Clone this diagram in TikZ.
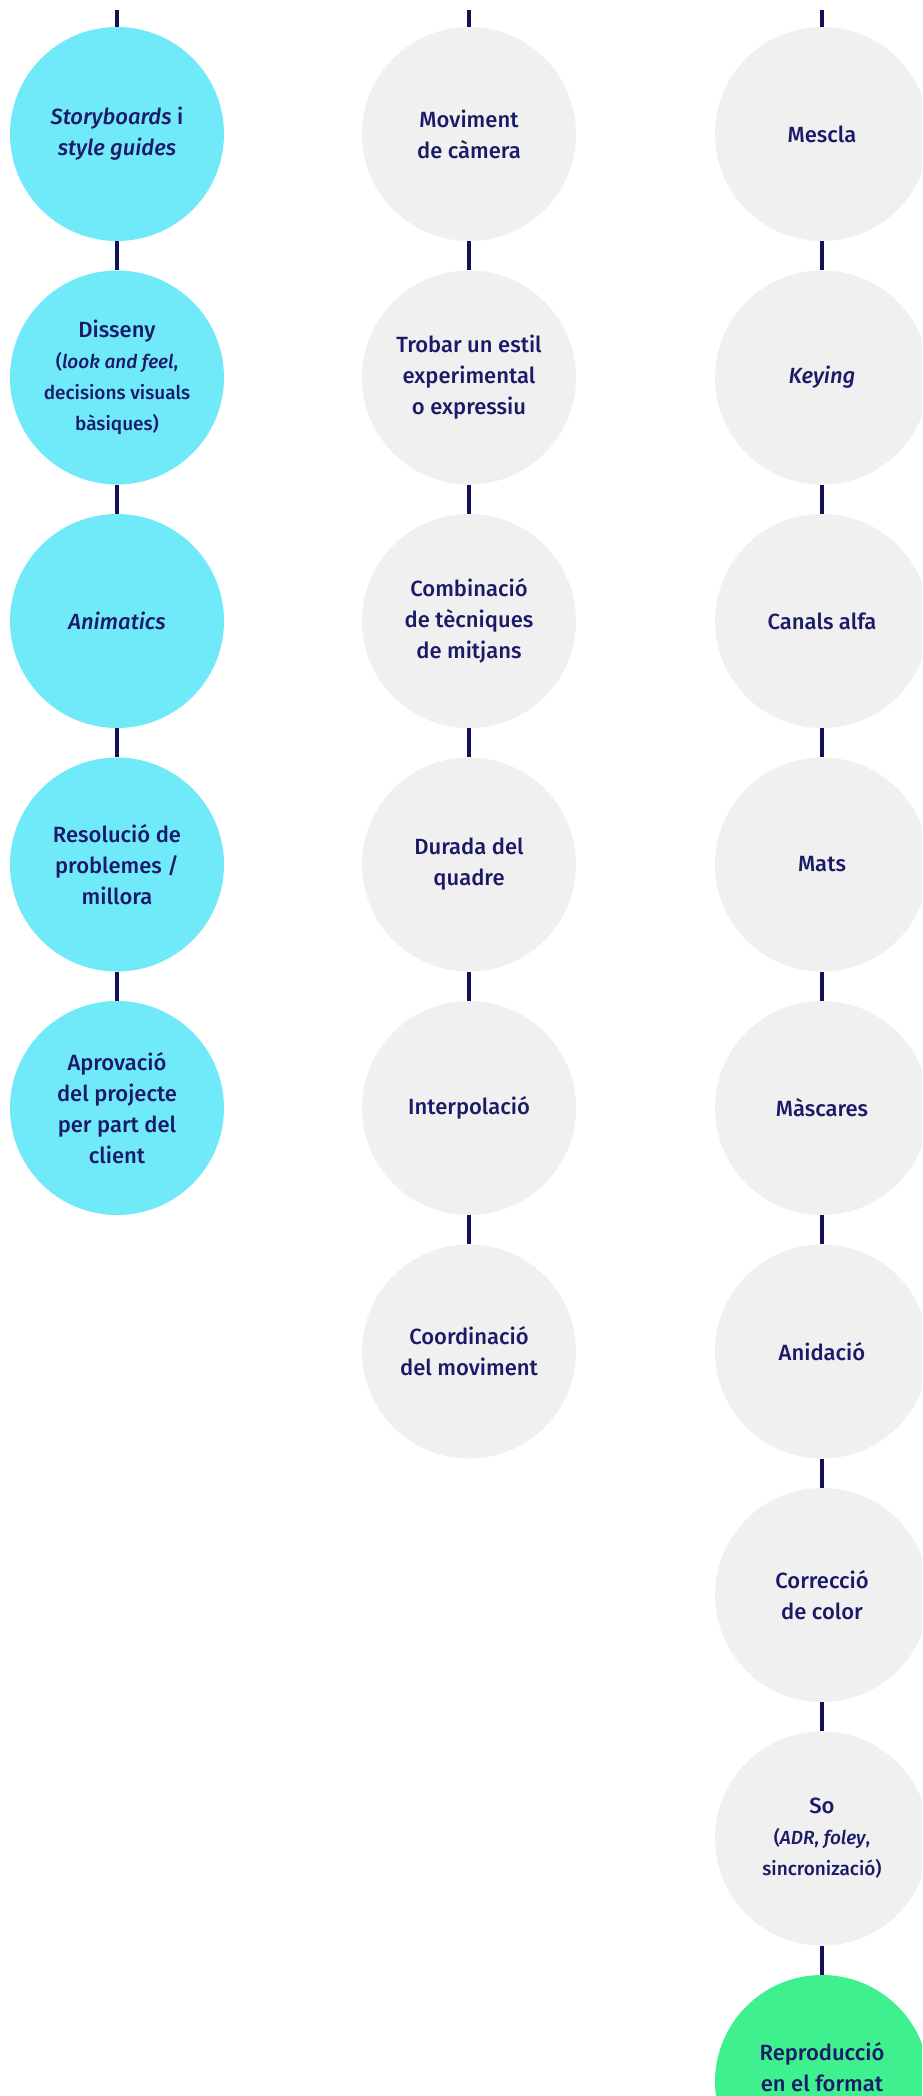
\documentclass[tikz,border=0pt]{standalone}
\usepackage{fontspec}
\setmainfont{Fira Sans Medium}[ItalicFont={Fira Sans Medium Italic}]
\definecolor{navy}{RGB}{26,26,104}
\definecolor{linenavy}{RGB}{18,18,90}
\definecolor{cyanfill}{RGB}{112,233,249}
\definecolor{greyfill}{RGB}{240,240,240}
\definecolor{greenfill}{RGB}{62,240,142}
\newcommand{\smalltxt}{\fontsize{19}{28}\selectfont}
\begin{document}
\begin{tikzpicture}[x=1pt,y=-1pt,
  bubble/.style={circle,inner sep=0pt,minimum size=214pt,text=navy,align=center,
    font=\fontsize{22}{31}\selectfont},
  cyanb/.style={bubble,fill=cyanfill},
  greyb/.style={bubble,fill=greyfill},
  greenb/.style={bubble,fill=greenfill},
  conn/.style={draw=linenavy,line width=4.5pt}]
\useasboundingbox (0,0) rectangle (922,2096);
\clip (0,0) rectangle (922,2096);
\fill[white] (0,0) rectangle (922,2096);
% left column
\node[cyanb] (L1) at (117,134) {\textit{Storyboards} i\\\textit{style guides}};
\node[cyanb] (L2) at (117,377.5) {Disseny\\{\smalltxt(\textit{look and feel},}\\{\smalltxt decisions visuals}\\{\smalltxt bàsiques)}};
\node[cyanb] (L3) at (117,621) {\textit{Animatics}};
\node[cyanb] (L4) at (117,864.5) {Resolució de\\problemes /\\millora};
\node[cyanb] (L5) at (117,1108) {Aprovació\\del projecte\\per part del\\client};
% middle column
\node[greyb] (M1) at (469,134) {Moviment\\de càmera};
\node[greyb] (M2) at (469,377.5) {Trobar un estil\\experimental\\o expressiu};
\node[greyb] (M3) at (469,621) {Combinació\\de tècniques\\de mitjans};
\node[greyb] (M4) at (469,864.5) {Durada del\\quadre};
\node[greyb] (M5) at (469,1108) {Interpolació};
\node[greyb] (M6) at (469,1351.5) {Coordinació\\del moviment};
% right column
\node[greyb] (R1) at (822,134) {Mescla};
\node[greyb] (R2) at (822,377.5) {\textit{Keying}};
\node[greyb] (R3) at (822,621) {Canals alfa};
\node[greyb] (R4) at (822,864.5) {Mats};
\node[greyb] (R5) at (822,1108) {Màscares};
\node[greyb] (R6) at (822,1351.5) {Anidació};
\node[greyb] (R7) at (822,1595) {Correcció\\de color};
\node[greyb] (R8) at (822,1838.5) {So\\{\smalltxt(\textit{ADR}, \textit{foley},}\\{\smalltxt sincronizació)}};
\node[greenb] (R9) at (822,2082) {Reproducció\\en el format\\\phantom{x}};
% top stubs
\coordinate (TL) at (117,10);
\coordinate (TM) at (469,10);
\coordinate (TR) at (822,10);
\draw[conn] (TL) -- (L1.north);
\draw[conn] (TM) -- (M1.north);
\draw[conn] (TR) -- (R1.north);
% connectors
\foreach \a/\b in {L1/L2,L2/L3,L3/L4,L4/L5,M1/M2,M2/M3,M3/M4,M4/M5,M5/M6,R1/R2,R2/R3,R3/R4,R4/R5,R5/R6,R6/R7,R7/R8,R8/R9}
  \draw[conn] (\a.south) -- (\b.north);
\end{tikzpicture}
\end{document}
